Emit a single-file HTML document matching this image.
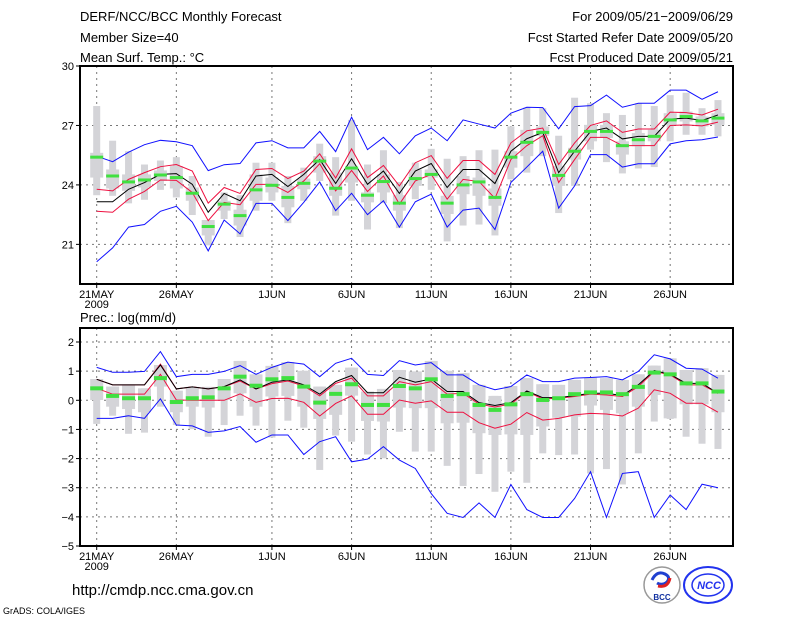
<!DOCTYPE html>
<html><head><meta charset="utf-8"><style>
html,body{margin:0;padding:0;background:#fff;}
svg{display:block;font-family:"Liberation Sans",sans-serif;}
</style></head><body>
<svg id="chart" width="800" height="618" viewBox="0 0 800 618" xmlns="http://www.w3.org/2000/svg">
<rect width="800" height="618" fill="#fff"/>
<text x="80" y="21" font-size="13">DERF/NCC/BCC Monthly Forecast</text>
<text x="80" y="42" font-size="13">Member Size=40</text>
<text x="80" y="62" font-size="13">Mean Surf. Temp.: °C</text>
<text x="733" y="21" font-size="13" text-anchor="end">For 2009/05/21−2009/06/29</text>
<text x="733" y="42" font-size="13" text-anchor="end">Fcst Started Refer Date 2009/05/20</text>
<text x="733" y="62" font-size="13" text-anchor="end">Fcst Produced Date 2009/05/21</text>
<text x="80" y="322" font-size="13">Prec.: log(mm/d)</text>
<text x="72" y="595" font-size="15">http://cmdp.ncc.cma.gov.cn</text>
<text x="3" y="614" font-size="9">GrADS: COLA/IGES</text>
<g>
<circle cx="662" cy="585" r="18" fill="#fff" stroke="#999" stroke-width="1.5"/>
<path d="M652 580 q5 -10 13 -6 q6 3 2 8 q-5 4 -10 1" fill="none" stroke="#2040d0" stroke-width="3"/>
<path d="M670 578 q-2 10 -12 8" fill="none" stroke="#e02020" stroke-width="3"/>
<text x="662" y="600" font-size="8" font-weight="bold" text-anchor="middle" fill="#1030a0">BCC</text>
</g>
<g>
<ellipse cx="708" cy="585" rx="24" ry="18" fill="#fff" stroke="#2233ee" stroke-width="2"/>
<ellipse cx="708" cy="585" rx="16" ry="11" fill="none" stroke="#2233ee" stroke-width="1.5"/>
<text x="709" y="589" font-size="11" font-weight="bold" font-style="italic" text-anchor="middle" fill="#2233ee">NCC</text>
</g>
<g id="top"></g>
<g id="bot"></g>
</svg>
<script>
// Temperature panel data (40 days, 21 May - 29 Jun)
const tBlueHi=[25.45,25.17,25.65,26.03,26.25,26.18,25.98,24.72,25.02,25.08,26.12,26.23,25.87,25.87,26.7,25.68,27.42,25.78,26.4,25.57,26.48,26.87,26.23,27.28,27.07,26.87,27.62,27.92,27.9,26.83,27.95,28.0,28.53,27.92,28.12,28.12,28.78,28.78,28.32,28.7];
const tBlueLo=[20.12,20.82,21.87,22.0,22.67,22.92,22.12,20.67,22.23,21.53,23.07,23.07,22.2,23.12,24.15,22.7,23.58,22.5,23.2,21.87,23.15,23.53,21.87,22.73,22.83,21.75,24.12,24.9,25.7,22.83,23.95,25.53,25.53,24.9,25.07,25.07,26.07,26.23,26.28,26.42];
const tMean=[23.15,23.15,23.78,24.12,24.53,24.57,24.03,22.62,23.57,23.2,24.45,24.53,23.92,24.53,25.28,24.07,25.32,24.03,24.7,23.57,24.7,25.08,23.87,24.78,24.78,24.07,25.7,26.33,26.65,24.62,25.7,26.7,26.87,26.32,26.45,26.45,27.32,27.37,27.25,27.53];
const tRedHi=[23.78,23.7,24.28,24.62,24.92,25.03,24.7,23.08,23.87,23.57,24.78,24.83,24.32,24.7,25.57,24.35,25.82,24.37,24.98,23.95,25.12,25.48,24.33,25.23,25.23,24.53,26.12,26.73,26.87,25.03,26.12,27.0,27.23,26.65,26.82,26.82,27.67,27.65,27.53,27.82];
const tRedLo=[22.67,22.62,23.28,23.67,24.25,24.23,23.62,22.2,23.12,23.0,24.03,24.03,23.62,24.2,25.07,23.7,24.73,23.67,24.45,23.03,24.2,24.53,23.28,24.28,24.17,23.32,25.28,25.98,26.48,24.12,25.28,26.4,26.4,25.98,25.98,25.98,27.0,27.03,26.98,27.17];
const tMedian=[25.4,24.45,24.15,24.25,24.5,24.37,23.58,21.9,23.03,22.45,23.75,23.98,23.37,24.08,25.2,23.83,24.85,23.48,24.17,23.08,24.32,24.53,23.08,24.0,24.15,23.37,25.4,26.15,26.65,24.48,25.7,26.7,26.7,25.98,26.28,26.45,27.28,27.45,27.23,27.37];
const tBoxHi=[27.98,26.23,25.7,25.03,25.23,25.4,24.45,22.23,23.62,23.48,25.12,25.12,24.45,24.87,26.08,25.4,27.28,25.03,25.75,24.15,25.12,25.82,25.32,25.45,25.75,25.78,26.95,27.9,27.87,26.48,28.4,28.12,27.62,27.53,28.12,27.98,28.53,28.65,27.87,28.28];
const tBoxQ3=[25.62,24.78,24.53,24.53,24.73,24.95,23.87,22.23,23.2,22.75,24.53,24.37,23.95,24.32,25.45,24.62,24.87,23.62,24.53,23.48,24.78,24.78,23.45,24.45,24.37,23.82,25.7,26.78,26.95,24.95,25.87,27.03,27.03,26.2,26.62,26.78,27.62,27.7,27.45,27.62];
const tBoxQ1=[24.37,23.82,23.7,23.87,24.2,23.82,23.2,21.45,22.7,21.95,23.2,23.62,22.87,23.78,24.62,23.45,24.12,23.12,23.62,22.7,23.95,24.37,22.53,23.53,23.45,22.95,24.87,25.45,26.48,23.95,25.28,26.2,26.37,25.53,25.95,26.2,27.03,27.2,26.95,27.03];
const tBoxLo=[23.48,23.45,23.07,23.25,23.75,23.37,22.48,20.95,22.28,21.37,22.7,23.2,22.07,23.2,24.2,22.45,23.2,21.75,23.08,21.82,23.28,23.75,21.15,21.95,22.0,21.45,24.28,24.62,25.45,22.58,23.95,25.78,25.15,24.58,24.83,24.9,26.2,26.53,26.53,26.45];
const tTicks=[21,24,27,30];
// Precipitation panel data
const pBlueHi=[1.13,0.96,0.96,0.99,1.67,0.81,0.89,0.89,0.99,1.19,0.89,1.13,1.31,1.24,0.81,1.27,1.44,0.89,0.85,1.36,1.21,1.29,0.87,0.87,0.53,0.36,0.47,0.87,0.64,0.64,0.76,0.78,0.81,0.7,0.99,1.56,1.42,1.1,1.07,0.76];
const pBlueLo=[-0.62,-0.62,-0.53,-0.62,0.05,-0.85,-0.88,-1.1,-1.05,-0.9,-1.44,-1.19,-1.19,-1.86,-1.42,-1.25,-2.11,-2.02,-1.59,-2.05,-2.34,-3.2,-3.88,-4.02,-3.52,-4.02,-2.89,-3.75,-4.02,-4.02,-3.37,-2.45,-4.02,-2.51,-2.45,-4.02,-3.25,-3.75,-2.88,-3.0];
const pMean=[0.72,0.53,0.53,0.53,1.21,0.39,0.46,0.39,0.47,0.7,0.39,0.62,0.7,0.53,0.21,0.64,0.85,0.26,0.26,0.79,0.62,0.73,0.3,0.3,-0.08,-0.18,-0.08,0.32,0.09,0.09,0.16,0.24,0.24,0.16,0.53,1.02,0.89,0.58,0.58,0.24];
const pRedHi=[0.72,0.53,0.53,0.53,1.24,0.39,0.46,0.39,0.47,0.66,0.39,0.57,0.66,0.49,0.15,0.58,0.76,0.15,0.15,0.64,0.53,0.64,0.21,0.24,-0.13,-0.23,-0.13,0.3,0.05,0.07,0.13,0.21,0.18,0.13,0.47,0.99,0.87,0.53,0.53,0.24];
const pRedLo=[0.41,0.21,0.21,0.21,0.89,0.01,0.0,0.0,0.0,0.22,-0.07,0.06,0.07,-0.07,-0.54,-0.11,0.15,-0.48,-0.48,0.01,-0.1,-0.02,-0.41,-0.41,-0.77,-0.96,-0.82,-0.42,-0.68,-0.62,-0.5,-0.45,-0.47,-0.54,-0.27,0.36,0.24,-0.1,-0.1,-0.41];
const pMedian=[0.41,0.15,0.07,0.07,0.76,-0.06,0.07,0.1,0.41,0.81,0.5,0.72,0.76,0.47,-0.08,0.22,0.55,-0.16,-0.16,0.49,0.41,0.72,0.15,0.21,-0.16,-0.33,-0.14,0.21,0.01,0.07,0.21,0.27,0.27,0.21,0.46,0.95,0.89,0.58,0.58,0.3];
const pBoxHi=[0.73,0.47,0.53,0.41,1.21,0.33,0.46,0.46,0.73,1.35,0.89,1.18,1.31,1.01,0.47,0.53,1.12,0.3,0.39,1.04,0.99,1.35,1.01,0.93,0.53,0.15,0.49,0.76,0.55,0.53,0.7,0.78,0.76,0.7,0.89,1.19,1.44,1.04,1.1,0.87];
const pBoxQ3=[0.73,0.47,0.53,0.41,1.21,0.33,0.46,0.46,0.73,1.35,0.89,1.18,1.31,1.01,0.47,0.53,1.12,0.3,0.39,1.04,0.99,1.35,1.01,0.93,0.53,0.15,0.49,0.76,0.55,0.53,0.7,0.78,0.76,0.7,0.89,1.19,1.44,1.04,1.1,0.87];
const pBoxQ1=[0.01,-0.22,-0.3,-0.41,0.47,-0.41,-0.22,-0.25,0.01,0.24,-0.22,0.13,0.15,-0.22,-0.64,-0.5,0.16,-0.71,-0.73,-0.25,-0.27,-0.27,-0.79,-0.77,-1.13,-1.19,-1.17,-1.19,-0.9,-0.6,-0.56,-0.18,-0.33,-0.45,-0.22,0.18,-0.62,-0.14,-0.14,-0.41];
const pBoxLo=[-0.81,-0.53,-1.15,-1.11,-0.22,-0.85,-0.99,-1.25,-0.85,-0.53,-0.87,-1.28,-0.7,-0.94,-2.39,-1.21,-1.42,-1.86,-1.99,-1.08,-1.76,-1.76,-2.25,-2.94,-2.53,-3.14,-2.45,-2.83,-1.82,-1.88,-1.86,-2.51,-2.36,-2.89,-1.82,-0.73,-0.64,-1.25,-1.49,-1.67];
const pTicks=[-5,-4,-3,-2,-1,0,1,2];
const dateLabels=["21MAY","26MAY","1JUN","6JUN","11JUN","16JUN","21JUN","26JUN"];
const dateIdx=[0,5,11,16,21,26,31,36];

const NS="http://www.w3.org/2000/svg";
const X0=96.7, DX=15.93, L=80, R=733;
function xOf(i){return X0+i*DX;}
function mk(tag,attrs,parent){const e=document.createElementNS(NS,tag);for(const k in attrs)e.setAttribute(k,attrs[k]);parent.appendChild(e);return e;}

function panel(g,top,bottom,vmin,vmax,ticks,gridTicks,d){
  const yOf=v=>bottom-(v-vmin)/(vmax-vmin)*(bottom-top);
  // grid
  gridTicks.forEach(t=>{const l=mk('line',{x1:L,x2:R,y1:yOf(t),y2:yOf(t),stroke:'#777','stroke-dasharray':'2,4','stroke-width':1},g);
    
    });
  dateIdx.forEach(i=>{const l=mk('line',{x1:xOf(i),x2:xOf(i),y1:top,y2:bottom,stroke:'#777','stroke-dasharray':'2,4','stroke-width':1},g);
    
    });
  // boxes
  for(let i=0;i<40;i++){
    const x=xOf(i);
    const n=mk('rect',{x:x-3.5,y:yOf(d.hi[i]),width:7,height:Math.max(0,yOf(d.lo[i])-yOf(d.hi[i])),fill:'#d4d4d8'},g);
    
    
    const w=mk('rect',{x:x-6.5,y:yOf(d.q3[i]),width:13,height:Math.max(0,yOf(d.q1[i])-yOf(d.q3[i])),fill:'#d4d4d8'},g);
    
    
  }
  const line=(arr,color,name)=>{const p=mk('polyline',{points:arr.map((v,i)=>xOf(i)+','+yOf(v)).join(' '),fill:'none',stroke:color,'stroke-width':1},g);
    
    };
  line(d.bhi,'#1010ff','max-line');
  line(d.blo,'#1010ff','min-line');
  line(d.rhi,'#ee1040','upper-spread-line');
  line(d.rlo,'#ee1040','lower-spread-line');
  line(d.mean,'#000','ensemble-mean-line');
  for(let i=0;i<40;i++){
    const m=mk('rect',{x:xOf(i)-6.5,y:yOf(d.med[i])-d.mh/2,width:13,height:d.mh,fill:'#40e040'},g);
    
    
  }
  // frame
  const f=mk('rect',{x:L,y:top,width:R-L,height:bottom-top,fill:'none',stroke:'#000','stroke-width':2},g);
  
  
  ticks.forEach(t=>{const y=yOf(t);
    mk('line',{x1:L-4,x2:L,y1:y,y2:y,stroke:'#000'},g);
    const tx=mk('text',{x:L-6,y:y+4,'font-size':11,'text-anchor':'end'},g);
    tx.textContent=(t<0?'−'+(-t):t);
    
    });
  dateIdx.forEach((i,k)=>{const x=xOf(i);
    mk('line',{x1:x,x2:x,y1:bottom,y2:bottom+4,stroke:'#000'},g);
    const tx=mk('text',{x:x,y:bottom+14,'font-size':11,'text-anchor':'middle'},g);
    tx.textContent=dateLabels[k];
    
    });
  const yr=mk('text',{x:xOf(0),y:bottom+24,'font-size':11,'text-anchor':'middle'},g);
  yr.textContent='2009';
  
  
}
const gt=document.getElementById('top');


panel(gt,66,284,19.0,30,tTicks,[21,24,27],{hi:tBoxHi,q3:tBoxQ3,q1:tBoxQ1,lo:tBoxLo,bhi:tBlueHi,blo:tBlueLo,rhi:tRedHi,rlo:tRedLo,mean:tMean,med:tMedian,mh:3});
const gb=document.getElementById('bot');


panel(gb,328,546,-5,2.48,pTicks,[-4,-3,-2,-1,0,1,2],{hi:pBoxHi,q3:pBoxQ3,q1:pBoxQ1,lo:pBoxLo,bhi:pBlueHi,blo:pBlueLo,rhi:pRedHi,rlo:pRedLo,mean:pMean,med:pMedian,mh:4});
</script>
</body></html>
